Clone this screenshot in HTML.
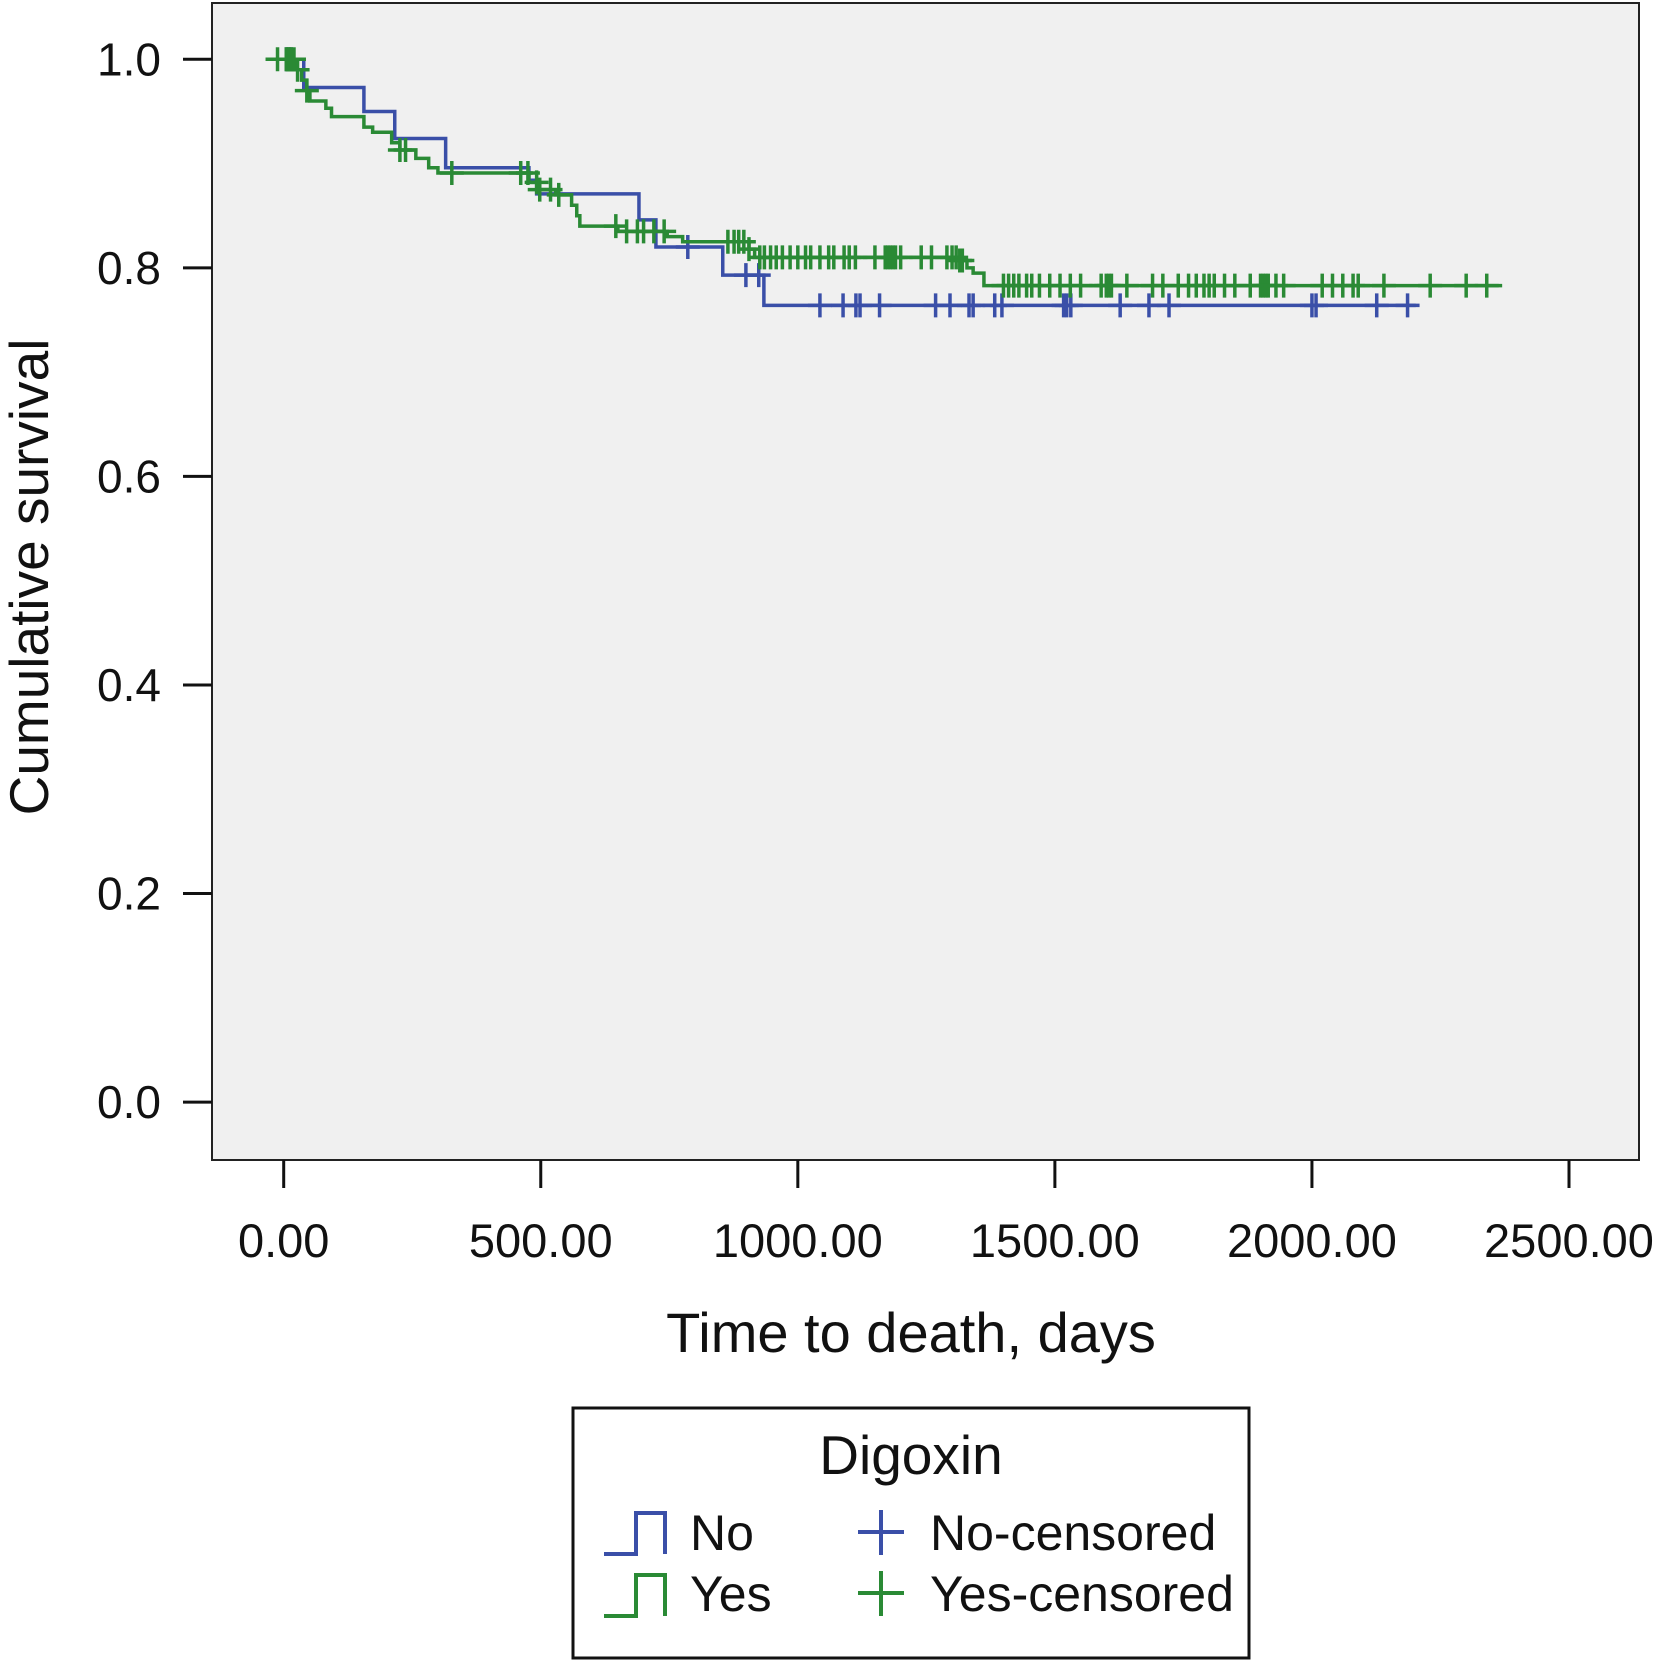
<!DOCTYPE html>
<html><head><meta charset="utf-8"><style>
html,body{margin:0;padding:0;background:#fff;}
svg{display:block;font-family:"Liberation Sans",Arial,sans-serif;}
</style></head><body>
<svg id="chart" width="1660" height="1660" viewBox="0 0 1660 1660" xmlns="http://www.w3.org/2000/svg">
<rect x="212" y="3" width="1427" height="1157" fill="#f0f0f0" stroke="#222" stroke-width="2"/>
<g id="axes"></g>
<g id="series"></g>
<text x="911" y="1352" font-size="56" text-anchor="middle" fill="#111">Time to death, days</text>
<text transform="translate(48,577) rotate(-90)" font-size="55" text-anchor="middle" fill="#111">Cumulative survival</text>
<g>
<rect x="573" y="1408" width="676" height="250" fill="#fff" stroke="#111" stroke-width="3"/>
<text x="911" y="1474" font-size="55" text-anchor="middle" fill="#111">Digoxin</text>
<g>
<path d="M604,1554 H636 V1513 H665 V1554" fill="none" stroke="#3a4fa8" stroke-width="4"/>
<text x="690" y="1550" font-size="50" fill="#111">No</text></g>
<g>
<path d="M604,1616 H636 V1575 H665 V1616" fill="none" stroke="#2a8a35" stroke-width="4"/>
<text x="690" y="1611" font-size="50" fill="#111">Yes</text></g>
<g>
<path d="M858,1532 H904 M881,1510 V1555" stroke="#3a4fa8" stroke-width="4"/>
<text x="930" y="1550" font-size="50" fill="#111">No-censored</text></g>
<g>
<path d="M858,1593 H904 M881,1571 V1616" stroke="#2a8a35" stroke-width="4"/>
<text x="930" y="1611" font-size="50" fill="#111">Yes-censored</text></g>
</g>
</svg>
<script>
const xTicks = [0, 500, 1000, 1500, 2000, 2500];
const xTickLabels = ["0.00", "500.00", "1000.00", "1500.00", "2000.00", "2500.00"];
const yTicks = [0, 0.2, 0.4, 0.6, 0.8, 1.0];
const yTickLabels = ["0.0", "0.2", "0.4", "0.6", "0.8", "1.0"];
const noTimes = [0, 39, 156, 216, 315, 477, 492, 691, 724, 854, 934];
const noSurv = [1, 0.973, 0.95, 0.924, 0.896, 0.884, 0.871, 0.846, 0.82, 0.793, 0.764];
const noEnd = 2202;
const noCensored = [5, 14, 786, 899, 924, 1043, 1088, 1113, 1121, 1159, 1268, 1296, 1333, 1341, 1383, 1397, 1517, 1523, 1531, 1627, 1683, 1722, 2000, 2008, 2126, 2186];
const yesTimes = [0, 25, 35, 45, 51, 82, 93, 156, 173, 210, 226, 257, 282, 300, 477, 498, 529, 560, 570, 576, 650, 746, 776, 905, 916, 1314, 1329, 1341, 1362];
const yesSurv = [1, 0.99, 0.98, 0.97, 0.96, 0.953, 0.945, 0.935, 0.93, 0.92, 0.913, 0.905, 0.896, 0.891, 0.882, 0.875, 0.87, 0.86, 0.85, 0.84, 0.835, 0.83, 0.825, 0.818, 0.81, 0.807, 0.8, 0.795, 0.783];
const yesEnd = 2370;
const yesCensored = [-12, 5, 8, 10, 12, 15, 20, 27, 45, 226, 237, 327, 461, 475, 492, 498, 519, 535, 646, 667, 688, 700, 720, 740, 864, 876, 885, 895, 905, 926, 935, 947, 958, 970, 985, 1000, 1015, 1025, 1043, 1060, 1070, 1090, 1100, 1112, 1150, 1170, 1175, 1180, 1185, 1190, 1200, 1240, 1260, 1290, 1300, 1308, 1315, 1320, 1400, 1410, 1420, 1430, 1445, 1455, 1470, 1490, 1510, 1530, 1550, 1590, 1600, 1605, 1610, 1640, 1690, 1710, 1740, 1760, 1775, 1790, 1800, 1810, 1830, 1850, 1880, 1900, 1905, 1910, 1915, 1930, 1945, 2020, 2040, 2060, 2080, 2090, 2140, 2230, 2300, 2340];

const NS = "http://www.w3.org/2000/svg";
function xS(d){ return 283.7 + d * 257.06 / 500; }
function yS(s){ return 1102.1 - s * 1042.8; }
function mk(tag, attrs, parent){ const e = document.createElementNS(NS, tag); for (const k in attrs) e.setAttribute(k, attrs[k]); parent.appendChild(e); return e; }
const axes = document.getElementById('axes');
const series = document.getElementById('series');
xTicks.forEach((t, i) => {
  const l = mk('line', {x1: xS(t), x2: xS(t), y1: 1160, y2: 1188, stroke: '#111', 'stroke-width': 3}, axes);
  
  
  const tx = mk('text', {x: xS(t), y: 1257, 'font-size': 47, 'text-anchor': 'middle', fill: '#111'}, axes);
  tx.textContent = xTickLabels[i];
  
  
});
yTicks.forEach((t, i) => {
  const l = mk('line', {x1: 183, x2: 212, y1: yS(t), y2: yS(t), stroke: '#111', 'stroke-width': 3}, axes);
  
  
  const tx = mk('text', {x: 161, y: yS(t) + 16, 'font-size': 46, 'text-anchor': 'end', fill: '#111'}, axes);
  tx.textContent = yTickLabels[i];
  
  
});
function survAt(times, surv, d){ let s = surv[0]; for (let i = 0; i < times.length; i++) if (times[i] <= d) s = surv[i]; return s; }
function drawSeries(times, surv, end, cens, color, name){
  let d = 'M' + xS(times[0]) + ',' + yS(surv[0]);
  for (let i = 1; i < times.length; i++) d += ' H' + xS(times[i]) + ' V' + yS(surv[i]);
  d += ' H' + xS(end);
  const p = mk('path', {d: d, fill: 'none', stroke: color, 'stroke-width': 3.5}, series);
  
  
  cens.forEach(c => {
    const x = xS(c), y = yS(survAt(times, surv, c));
    const m = mk('path', {d: 'M' + (x - 12) + ',' + y + ' H' + (x + 12) + ' M' + x + ',' + (y - 12) + ' V' + (y + 12), stroke: color, 'stroke-width': 3.5}, series);
    
    
  });
}
drawSeries(noTimes, noSurv, noEnd, noCensored, '#3a4fa8', 'no');
drawSeries(yesTimes, yesSurv, yesEnd, yesCensored, '#2a8a35', 'yes');
</script>
</body></html>
